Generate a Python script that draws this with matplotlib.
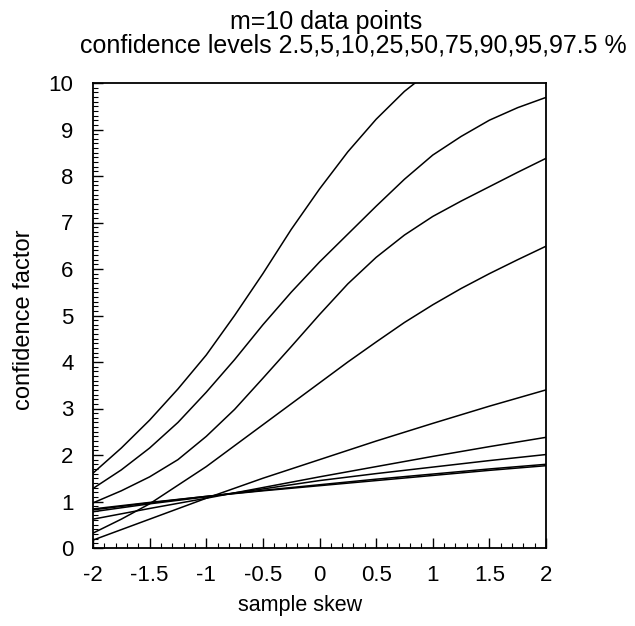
import numpy as np
import matplotlib.pyplot as plt
from matplotlib.ticker import MultipleLocator

plt.rcParams['font.family'] = ['Liberation Sans', 'DejaVu Sans']

# skew values at which the curves were read
skew_fine = [-2, -1.75, -1.5, -1.25, -1, -0.75, -0.5, -0.25, 0, 0.25, 0.5, 0.75, 1, 1.25, 1.5, 1.75, 2]
skew_coarse = [-2, -1.5, -1, -0.5, 0, 0.5, 1, 1.5, 2]
skew_labels = ['-2', '-1.5', '-1', '-0.5', '0', '0.5', '1', '1.5', '2']

# confidence factors for each confidence level
cf_975 = [1.61, 2.15, 2.75, 3.42, 4.15, 5.0, 5.9, 6.85, 7.72, 8.52, 9.22, 9.82, 10.3]
cf_95 = [1.28, 1.68, 2.15, 2.7, 3.35, 4.05, 4.8, 5.5, 6.15, 6.75, 7.35, 7.93, 8.45, 8.85, 9.2, 9.47, 9.69]
cf_90 = [0.97, 1.23, 1.53, 1.9, 2.4, 2.98, 3.65, 4.33, 5.02, 5.68, 6.25, 6.73, 7.13, 7.46, 7.77, 8.08, 8.38]
cf_75 = [0.32, 0.62, 0.95, 1.35, 1.75, 2.2, 2.65, 3.1, 3.55, 4.0, 4.43, 4.85, 5.23, 5.58, 5.9, 6.2, 6.49]
cf_50 = [0.17, 0.62, 1.07, 1.5, 1.9, 2.3, 2.68, 3.05, 3.40]
cf_25 = [0.62, 0.85, 1.07, 1.3, 1.53, 1.75, 1.97, 2.18, 2.38]
cf_10 = [0.78, 0.95, 1.1, 1.27, 1.45, 1.6, 1.74, 1.88, 2.01]
cf_5 = [0.82, 0.97, 1.11, 1.24, 1.36, 1.48, 1.59, 1.70, 1.80]
cf_2_5 = [0.84, 0.98, 1.11, 1.23, 1.34, 1.45, 1.56, 1.67, 1.77]

fig = plt.figure(figsize=(6.35, 6.26), dpi=100)
ax = fig.add_axes([93 / 635, 78 / 626, 453 / 635, 465 / 626])

lw = 1.1
ax.plot(skew_fine[:len(cf_975)], cf_975, color='black', lw=lw)
ax.plot(skew_fine, cf_95, color='black', lw=lw)
ax.plot(skew_fine, cf_90, color='black', lw=lw)
ax.plot(skew_fine, cf_75, color='black', lw=lw)
for cf in [cf_50, cf_25, cf_10, cf_5, cf_2_5]:
    ax.plot(skew_coarse, cf, color='black', lw=lw)

ax.set_xlim(-2, 2)
ax.set_ylim(0, 10)
ax.set_xticks(skew_coarse)
ax.set_xticklabels(skew_labels)
ax.xaxis.set_minor_locator(MultipleLocator(0.1))
ax.yaxis.set_major_locator(MultipleLocator(1))
ax.yaxis.set_minor_locator(MultipleLocator(0.1))
ax.tick_params(which='major', direction='in', length=7, width=1.0, labelsize=16)
ax.tick_params(axis='x', which='major', pad=12)
ax.tick_params(axis='y', which='major', pad=14)
ax.tick_params(which='minor', direction='in', length=3.5, width=0.8)
for s in ax.spines.values():
    s.set_linewidth(1.3)

fig.text(300 / 635, 1 - 606 / 626, 'sample skew', ha='center', va='center', fontsize=15.5)
fig.text(24 / 635, 1 - 320 / 626, 'confidence factor', ha='center', va='center',
         rotation=90, fontsize=17)

fig.text(326 / 635, 1 - 22 / 626, 'm=10 data points', ha='center', va='center', fontsize=18)
fig.text(353 / 635, 1 - 45 / 626, 'confidence levels 2.5,5,10,25,50,75,90,95,97.5 %',
         ha='center', va='center', fontsize=18)

fig.savefig('out.png', dpi=100)
